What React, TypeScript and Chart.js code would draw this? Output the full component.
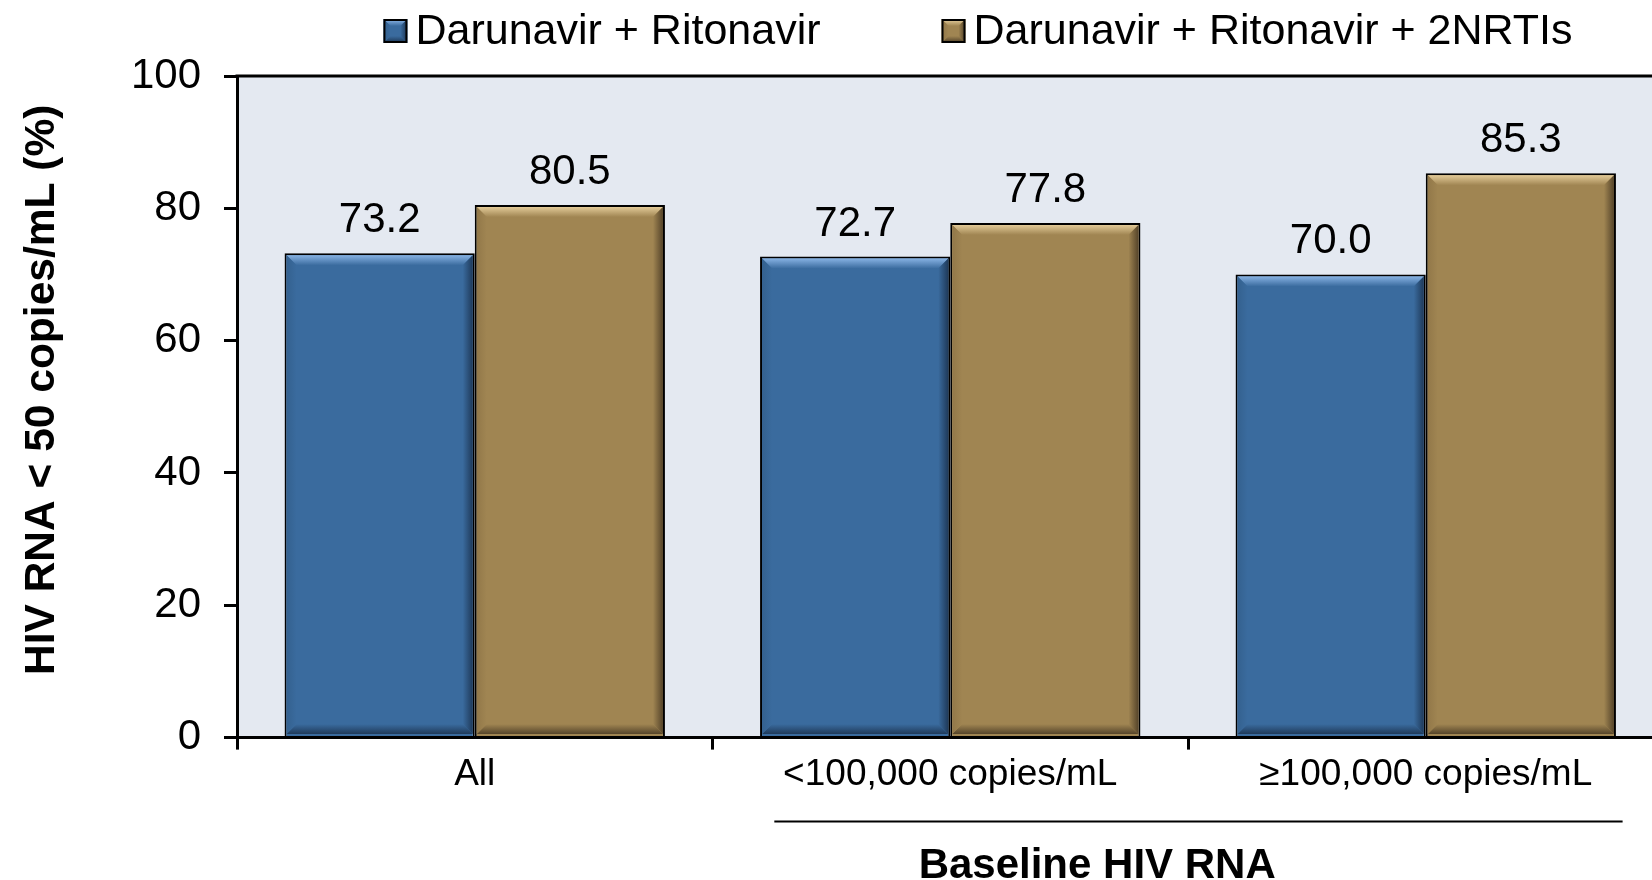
import React, { useEffect, useRef } from "react";
import { Chart, registerables } from "chart.js";

Chart.register(...registerables);

const categories = ["All", "<100,000 copies/mL", "≥100,000 copies/mL"];
const seriesNames = ["Darunavir + Ritonavir", "Darunavir + Ritonavir + 2NRTIs"];
const drvRtvValues = [73.2, 72.7, 70.0];
const drvRtvNrtiValues = [80.5, 77.8, 85.3];
const yTickValues = [0, 20, 40, 60, 80, 100];
const yTitle = "HIV RNA < 50 copies/mL (%)";
const groupTitle = "Baseline HIV RNA";

const FONT = 'Arial, "Liberation Sans", Helvetica, sans-serif';
const PALETTE = [
  { face: "#3A6B9E", light: "#86B1E2", dark: "#1F3A5A", side: "#34618F" },
  { face: "#A08552", light: "#E2CA98", dark: "#55442A", side: "#927849" },
];

function poly(ctx: CanvasRenderingContext2D, pts: number[][], fill: any) {
  ctx.beginPath();
  ctx.moveTo(pts[0][0], pts[0][1]);
  for (let i = 1; i < pts.length; i++) ctx.lineTo(pts[i][0], pts[i][1]);
  ctx.closePath();
  ctx.fillStyle = fill;
  ctx.fill();
}

function bevel(ctx: CanvasRenderingContext2D, L: number, T: number, R: number, B: number, b: number, c: any) {
  ctx.save();
  let g = ctx.createLinearGradient(0, T, 0, T + b);
  g.addColorStop(0, c.light);
  g.addColorStop(1, c.face);
  poly(ctx, [[L, T], [R, T], [R - b, T + b], [L + b, T + b]], g);
  g = ctx.createLinearGradient(R - b, 0, R, 0);
  g.addColorStop(0, c.face);
  g.addColorStop(1, c.dark);
  poly(ctx, [[R, T], [R, B], [R - b, B - b], [R - b, T + b]], g);
  g = ctx.createLinearGradient(0, B - b, 0, B);
  g.addColorStop(0, c.face);
  g.addColorStop(1, c.dark);
  poly(ctx, [[L, B], [R, B], [R - b, B - b], [L + b, B - b]], g);
  g = ctx.createLinearGradient(L, 0, L + b, 0);
  g.addColorStop(0, c.side);
  g.addColorStop(1, c.face);
  poly(ctx, [[L, T], [L, B], [L + b, B - b], [L + b, T + b]], g);
  ctx.restore();
}

const decorPlugin = {
  id: "decor",
  beforeDraw(chart: any) {
    const { ctx, chartArea: a } = chart;
    ctx.save();
    ctx.fillStyle = "#E4E9F1";
    ctx.fillRect(a.left, a.top, a.right - a.left, a.bottom - a.top);
    ctx.strokeStyle = "#000";
    ctx.lineWidth = 3;
    ctx.beginPath();
    ctx.moveTo(a.left - 1.5, a.top);
    ctx.lineTo(a.right, a.top);
    ctx.stroke();
    ctx.restore();
  },
  afterDatasetsDraw(chart: any) {
    const { ctx } = chart;
    chart.data.datasets.forEach((ds: any, di: number) => {
      const meta = chart.getDatasetMeta(di);
      meta.data.forEach((bar: any, i: number) => {
        const bw = 2;
        const L = bar.x - bar.width / 2 + bw;
        const R = bar.x + bar.width / 2 - bw;
        const T = bar.y + bw;
        const B = bar.base - bw;
        bevel(ctx, L, T, R, B, 10, PALETTE[di]);
        ctx.save();
        ctx.fillStyle = "#000";
        ctx.font = `42px ${FONT}`;
        ctx.textAlign = "center";
        ctx.textBaseline = "alphabetic";
        ctx.fillText(Number(ds.data[i]).toFixed(1), bar.x, bar.y - 21);
        ctx.restore();
      });
    });
  },
  afterDraw(chart: any) {
    const { ctx, chartArea: a } = chart;
    const xs = chart.scales.x;
    const w = (a.right - a.left) / categories.length;
    // legend
    ctx.save();
    ctx.font = `43px ${FONT}`;
    ctx.textBaseline = "middle";
    ctx.textAlign = "left";
    const box = 24;
    const gap = 8;
    const spacing = 121;
    const widths = seriesNames.map((n) => ctx.measureText(n).width);
    const total = widths.reduce((s, v) => s + v + box + gap, 0) + spacing;
    let x = a.left + 741 - total / 2;
    const by = 19;
    seriesNames.forEach((n, i) => {
      ctx.fillStyle = PALETTE[i].face;
      ctx.fillRect(x, by, box, box);
      bevel(ctx, x + 1, by + 1, x + box - 1, by + box - 1, 6, PALETTE[i]);
      ctx.strokeStyle = "#000";
      ctx.lineWidth = 2;
      ctx.strokeRect(x + 1, by + 1, box - 2, box - 2);
      ctx.fillStyle = "#000";
      ctx.fillText(n, x + box + gap, by + box / 2 + 1);
      x += box + gap + widths[i] + spacing;
    });
    // y-axis title
    ctx.save();
    ctx.font = `bold 42.5px ${FONT}`;
    ctx.textAlign = "center";
    ctx.textBaseline = "middle";
    ctx.translate(42, (a.top + a.bottom) / 2 - 17);
    ctx.rotate(-Math.PI / 2);
    ctx.fillText(yTitle, 0, 0);
    ctx.restore();
    // group annotation
    const c1 = xs.getPixelForValue(1);
    const c2 = xs.getPixelForValue(2);
    const ly = a.bottom + 84;
    ctx.strokeStyle = "#000";
    ctx.lineWidth = 2;
    ctx.beginPath();
    ctx.moveTo(c1 - 0.37 * w, ly);
    ctx.lineTo(c2 + 0.414 * w, ly);
    ctx.stroke();
    ctx.font = `bold 42px ${FONT}`;
    ctx.textAlign = "center";
    ctx.textBaseline = "alphabetic";
    ctx.fillText(groupTitle, c1 + 0.309 * w, a.bottom + 140);
    ctx.restore();
  },
};

export default function App() {
  const ref = useRef<HTMLCanvasElement | null>(null);
  useEffect(() => {
    if (!ref.current) return;
    const chart = new Chart(ref.current, {
      type: "bar",
      data: {
        labels: categories,
        datasets: [
          {
            label: seriesNames[0],
            data: drvRtvValues,
            backgroundColor: PALETTE[0].face,
            borderColor: "#000",
            borderWidth: 2,
            categoryPercentage: 0.8,
            barPercentage: 1.0,
          },
          {
            label: seriesNames[1],
            data: drvRtvNrtiValues,
            backgroundColor: PALETTE[1].face,
            borderColor: "#000",
            borderWidth: 2,
            categoryPercentage: 0.8,
            barPercentage: 1.0,
          },
        ],
      },
      options: {
        responsive: false,
        animation: false,
        devicePixelRatio: 1,
        layout: { padding: { top: 76, right: 16.5, left: 0, bottom: 0 } },
        plugins: {
          legend: { display: false },
          tooltip: { enabled: false },
        },
        scales: {
          x: {
            offset: true,
            grid: {
              offset: true,
              drawOnChartArea: false,
              drawTicks: true,
              tickLength: 12,
              color: "#000",
              lineWidth: 3,
            },
            border: { display: true, color: "#000", width: 3 },
            ticks: {
              font: { family: FONT, size: 37 },
              color: "#000",
              padding: 3,
              maxRotation: 0,
              autoSkip: false,
            },
            afterFit: (s: any) => {
              s.height = 142.4;
            },
          },
          y: {
            min: 0,
            max: 100,
            afterBuildTicks: (s: any) => {
              s.ticks = yTickValues.map((v) => ({ value: v }));
            },
            grid: {
              drawOnChartArea: false,
              drawTicks: true,
              tickLength: 13,
              color: "#000",
              lineWidth: 3,
            },
            border: { display: true, color: "#000", width: 3 },
            ticks: {
              font: { family: FONT, size: 42 },
              color: "#000",
              padding: 23,
            },
            title: { display: false, text: yTitle },
            afterFit: (s: any) => {
              s.width = 237;
            },
          },
        },
      },
      plugins: [decorPlugin],
    } as any);
    return () => chart.destroy();
  }, []);

  return (
    <div
      style={{
        position: "fixed",
        left: 0,
        top: 0,
        width: "1652px",
        height: "880px",
        overflow: "hidden",
        background: "#fff",
      }}
    >
      <canvas ref={ref} width={1680} height={880} style={{ display: "block" }} />
    </div>
  );
}
